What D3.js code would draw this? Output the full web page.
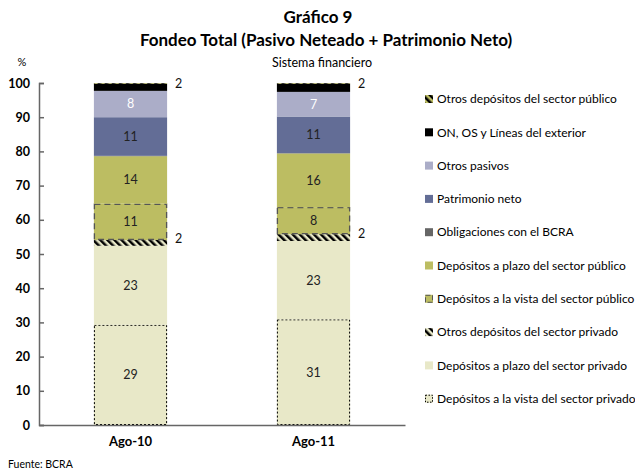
<!DOCTYPE html>
<html>
<head>
<meta charset="utf-8">
<script src="https://cdn.jsdelivr.net/npm/d3@7"></script>
<style>
  body { margin: 0; background: #fff; }
  svg { font-family: Lato, "Open Sans", sans-serif; }
</style>
</head>
<body>
<div class="container"></div>
<script>
// categories (x axis)
const periods = ["Ago-10", "Ago-11"];

// series, bottom of the stack first
const seriesNames = [
  "Depósitos a la vista del sector privado",
  "Depósitos a plazo del sector privado",
  "Otros depósitos del sector privado",
  "Depósitos a la vista del sector público",
  "Depósitos a plazo del sector público",
  "Obligaciones con el BCRA",
  "Patrimonio neto",
  "Otros pasivos",
  "ON, OS y Líneas del exterior",
  "Otros depósitos del sector público"
];
const ago10 = [29.3, 23.1, 1.7, 10.6, 13.9, 0.1, 11.3, 7.7, 2.1, 0.2];
const ago11 = [30.9, 22.9, 2.0, 7.9, 15.7, 0.1, 10.7, 7.2, 2.4, 0.2];
// labels as printed in the chart ("" = none)
const labels10 = ["29", "23", "2", "11", "14", "", "11", "8", "2", ""];
const labels11 = ["31", "23", "2", "8", "16", "", "11", "7", "2", ""];
const yTicks = [0, 10, 20, 30, 40, 50, 60, 70, 80, 90, 100];

const values = [ago10, ago11];
const labelSets = [labels10, labels11];

const cream = "#e8e8c8";
const olive = "#bcbd62";
const fills = [cream, cream, "url(#hatchPriv)", olive, olive, "#666666", "#636d96", "#abadc8", "#000000", "url(#hatchPub)"];
// borders drawn on some segments
const borders = [
  { stroke: "#000", dash: "2,2" },
  null,
  null,
  { stroke: "#555", dash: "6,4" },
  null, null, null, null, null,
  { stroke: "#222", dash: "3,3" }
];
const labelColors = ["#222", "#222", "#222", "#222", "#222", "#222", "#222", "#fff", "#222", "#222"];
// small segments get their label outside on the right
const outside = [false, false, true, false, false, false, false, false, true, false];

const width = 635;
const height = 469;
const margin = { top: 83, right: 230, bottom: 44, left: 39 };

const svg = d3.select(".container")
  .append("svg")
  .attr("width", width)
  .attr("height", height);

const defs = svg.append("defs");
function hatch(id, bg) {
  const p = defs.append("pattern")
    .attr("id", id)
    .attr("patternUnits", "userSpaceOnUse")
    .attr("width", 5)
    .attr("height", 5)
    .attr("patternTransform", "rotate(-45)");
  p.append("rect").attr("width", 5).attr("height", 5).attr("fill", bg);
  p.append("rect").attr("width", 2.5).attr("height", 5).attr("fill", "#000");
}
hatch("hatchPriv", cream);
hatch("hatchPub", olive);

const x = d3.scaleBand()
  .domain(periods)
  .range([margin.left, width - margin.right])
  .paddingInner(0.6)
  .paddingOuter(0.3);

const y = d3.scaleLinear()
  .domain([0, 100])
  .range([height - margin.bottom, margin.top]);

// stacked data
const table = periods.map((p, i) => {
  const row = { period: p };
  seriesNames.forEach((s, j) => { row[s] = values[i][j]; });
  return row;
});
const stacked = d3.stack().keys(seriesNames)(table);

const layers = svg.append("g")
  .selectAll("g")
  .data(stacked)
  .join("g");

layers.selectAll("rect")
  .data((d) => d.map((v) => ({ v, key: d.key, idx: d.index })))
  .join("rect")
  .attr("x", (d) => x(d.v.data.period))
  .attr("width", x.bandwidth())
  .attr("y", (d) => y(d.v[1]))
  .attr("height", (d) => y(d.v[0]) - y(d.v[1]))
  .attr("fill", (d) => fills[d.idx]);

// borders on top so they are not covered
layers.each(function (d) {
  const b = borders[d.index];
  if (!b) return;
  d3.select(this).selectAll("rect.border")
    .data(d)
    .join("rect")
    .attr("class", "border")
    .attr("x", (v) => x(v.data.period) + 0.5)
    .attr("width", x.bandwidth() - 1)
    .attr("y", (v) => y(v[1]) + 0.5)
    .attr("height", (v) => Math.max(0, y(v[0]) - y(v[1]) - 1))
    .attr("fill", "none")
    .attr("stroke", b.stroke)
    .attr("stroke-width", d.index === 3 ? 1.3 : 1)
    .attr("stroke-dasharray", b.dash);
});

// value labels
const labelG = svg.append("g")
  .attr("font-size", 12.5);
stacked.forEach((layer) => {
  layer.forEach((v, i) => {
    const txt = labelSets[i][layer.index];
    if (!txt) return;
    const mid = y((v[0] + v[1]) / 2);
    const out = outside[layer.index];
    labelG.append("text")
      .attr("x", out ? x(v.data.period) + x.bandwidth() + 8 : x(v.data.period) + x.bandwidth() / 2)
      .attr("y", out ? mid - 4 : mid)
      .attr("dy", "0.35em")
      .attr("text-anchor", out ? "start" : "middle")
      .attr("fill", out ? "#111" : labelColors[layer.index])
      .text(txt);
  });
});

// axes
const yAxis = svg.append("g")
  .attr("transform", `translate(${margin.left},0)`)
  .call(d3.axisLeft(y).tickValues(yTicks).tickSize(-5).tickPadding(9));
yAxis.select(".domain").attr("stroke", "#666").attr("stroke-width", 1.5);
yAxis.selectAll(".tick line").attr("stroke", "#666").attr("stroke-width", 1.5);
yAxis.selectAll(".tick text")
  .attr("font-size", 12.5)
  .attr("font-weight", "bold")
  .attr("fill", "#000")
  .attr("font-family", "Lato, sans-serif");

const xAxis = svg.append("g")
  .attr("transform", `translate(0,${y(0)})`)
  .call(d3.axisBottom(x).tickSize(0).tickPadding(12));
xAxis.select(".domain").attr("stroke", "#666").attr("stroke-width", 1.5);
xAxis.selectAll(".tick text")
  .attr("font-size", 13)
  .attr("font-weight", "bold")
  .attr("fill", "#000")
  .attr("font-family", "Lato, sans-serif");

// titles
svg.append("text")
  .attr("x", 318).attr("y", 23)
  .attr("text-anchor", "middle")
  .attr("font-size", 17).attr("font-weight", "bold")
  .text("Gráfico 9");
svg.append("text")
  .attr("x", 326).attr("y", 46)
  .attr("text-anchor", "middle")
  .attr("font-size", 17).attr("font-weight", "bold")
  .text("Fondeo Total (Pasivo Neteado + Patrimonio Neto)");
svg.append("text")
  .attr("x", 322).attr("y", 67)
  .attr("text-anchor", "middle")
  .attr("font-size", 12.5)
  .text("Sistema financiero");
svg.append("text")
  .attr("x", 22).attr("y", 66)
  .attr("text-anchor", "middle")
  .attr("font-size", 11)
  .text("%");
svg.append("text")
  .attr("x", 8).attr("y", 468)
  .attr("font-size", 10.5)
  .text("Fuente: BCRA");

// legend, top entry = last series
const legendItems = seriesNames.map((s, i) => ({ name: s, idx: i })).reverse();
const legend = svg.append("g")
  .attr("transform", "translate(425,99)");
const li = legend.selectAll("g")
  .data(legendItems)
  .join("g")
  .attr("transform", (d, i) => `translate(0,${i * 33.3})`);
li.append("rect")
  .attr("x", 0).attr("y", -4)
  .attr("width", 8).attr("height", 8)
  .attr("fill", (d) => fills[d.idx]);
li.filter((d) => borders[d.idx] && d.idx !== 9)
  .append("rect")
  .attr("x", 0.5).attr("y", -3.5)
  .attr("width", 7).attr("height", 7)
  .attr("fill", "none")
  .attr("stroke", (d) => borders[d.idx].stroke)
  .attr("stroke-dasharray", (d) => d.idx === 0 ? "1.5,1.5" : "5,2");
li.append("text")
  .attr("x", 12)
  .attr("dy", "0.35em")
  .attr("font-size", 12)
  .text((d) => d.name);
</script>
</body>
</html>
